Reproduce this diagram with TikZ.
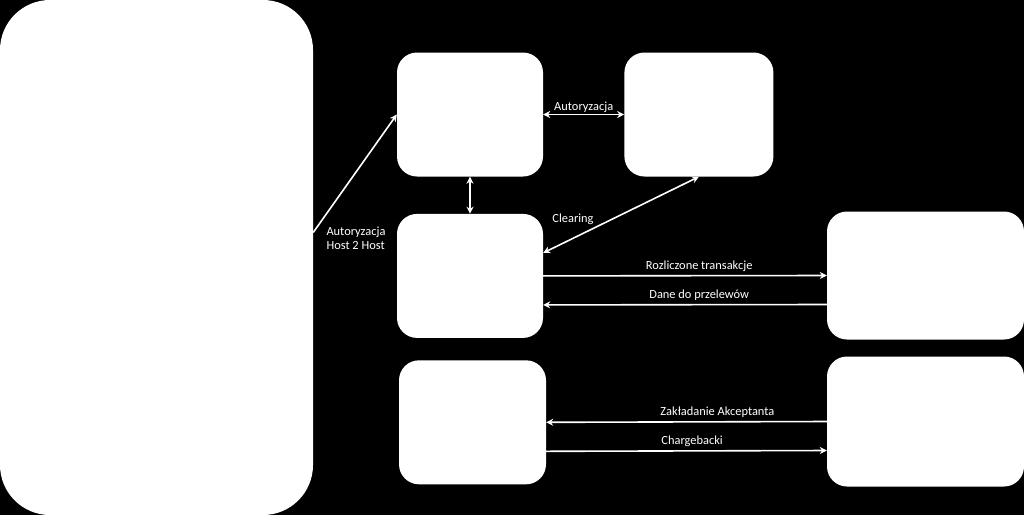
\documentclass[tikz,border=0pt]{standalone}
\usepackage{fontspec}
\setmainfont{Carlito}
\usetikzlibrary{positioning, arrows.meta}

\begin{document}
\begin{tikzpicture}[x=1pt, y=-1pt, node distance=37pt and 81pt]
    \tikzstyle{emitent} = [rectangle, rounded corners=50pt, minimum width=313pt, minimum height=515pt, fill=white, inner sep=0pt]
    \tikzstyle{system} = [rectangle, rounded corners=20pt, minimum width=146pt, minimum height=124pt, fill=white, inner sep=0pt]
    \tikzstyle{partner} = [rectangle, rounded corners=20pt, minimum width=197pt, minimum height=128pt, fill=white, inner sep=0pt]
    \tikzstyle{flowtext} = [text=white, font=\fontsize{12.4}{14}\selectfont]
    \tikzstyle{arrow} = [draw=white, line width=1.6pt, -{Stealth[length=7pt, width=7pt]}]
    \tikzstyle{twoway} = [arrow, {Stealth[length=7pt, width=7pt]}-{Stealth[length=7pt, width=7pt]}]

    \fill [black] (0,0) rectangle (1024,515);
    \useasboundingbox (0,0) rectangle (1024,515);

    \node (emitent) [emitent] at (156.5,257.5) {};
    \node (auth) [system] at (470,114.5) {};
    \node (clearing) [system, below=37pt of auth] {};
    \node (acc) [system, minimum width=147pt, below=22pt of clearing, xshift=2.5pt] {};
    \node (scheme) [system, minimum width=149pt, right=81pt of auth] {};
    \node (bank) [partner] at (925.5,275.5) {};
    \node (merchant) [partner, minimum height=130pt] at (925.5,421.5) {};

    \node (h2h) [flowtext, align=left] at (356,238) {Autoryzacja\\Host 2 Host};
    \node (clrlbl) [flowtext] at (573,219) {Clearing};

    \draw [arrow] ([yshift=25pt]emitent.east) -- (auth.west);
    \draw [twoway] (auth.east) -- node [flowtext, above, inner sep=1.5pt] {Autoryzacja} (scheme.west);
    \draw [twoway] (auth.south) -- (clearing.north);
    \draw [twoway] (scheme.south) -- ([yshift=23pt]clearing.east);
    \draw [arrow] (clearing.east) -- node [flowtext, above, pos=0.55] {Rozliczone transakcje} (bank.west);
    \draw [arrow] ([yshift=-29pt]bank.west) -- node [flowtext, above, pos=0.45] {Dane do przelewów} ([yshift=-29pt]clearing.east);
    \draw [arrow] (merchant.west) -- node [flowtext, above, pos=0.39] {Zakładanie Akceptanta} (acc.east);
    \draw [arrow] ([yshift=-29pt]acc.east) -- node [flowtext, above, pos=0.52] {Chargebacki} ([yshift=-29pt]merchant.west);
\end{tikzpicture}
\end{document}
